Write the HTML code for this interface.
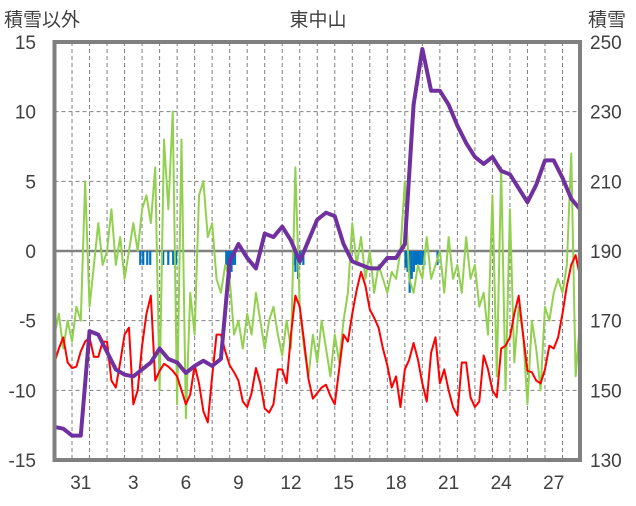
<!DOCTYPE html>
<html><head><meta charset="utf-8"><style>
body{margin:0;background:#fff}
svg text{font-family:"Liberation Sans","Noto Sans CJK JP",sans-serif;fill:#404040}
</style></head><body>
<svg id="chart" width="636" height="501" viewBox="0 0 636 501" xmlns="http://www.w3.org/2000/svg">
<rect width="636" height="501" fill="#fff"/>
<text x="318" y="26" font-size="19" text-anchor="middle">東中山</text>
<text x="4" y="26" font-size="19">積雪以外</text>
<text x="588" y="26" font-size="19">積雪</text>
<g id="grid"></g><g id="marks"></g><g id="labels"></g>
<rect x="54.5" y="42" width="525.5" height="418" fill="none" stroke="#808080" stroke-width="4"/>
</svg>
<script>
const leftTicks=[15,10,5,0,-5,-10,-15];
const rightTicks=[250,230,210,190,170,150,130];
const dayLabels=["31","3","6","9","12","15","18","21","24","27"];
const dayLabelPos=[1,4,7,10,13,16,19,22,25,28];
const snowDepth=[139.5,139,137,137,167,166,161,156,154.5,154,156,158,162,159,158,155,157,158.5,157,159,187,192,188,185,195,194,197,193,187,193,199,201,200,192,187,186,185,185,188,188,192,232,248,236,236,232,226,221,217,215,217,213,212,208,204,209,216,216,211,205,202];
const temperature=[-8,-7,-6.2,-8,-8.4,-8.3,-7.2,-6.5,-6.2,-7.6,-7.6,-6.5,-6.5,-9.3,-9.8,-8,-6,-5.5,-11,-10,-6.8,-4.5,-3.2,-9.3,-8.6,-8.1,-8.3,-8.6,-9,-10,-11,-10.3,-8.2,-9.5,-11.5,-12.3,-9,-6,-6,-7.2,-8.2,-8.7,-9.3,-10.8,-11.2,-10.2,-8.4,-9.5,-11.3,-11.6,-11,-8.5,-8.5,-9.5,-6,-3.2,-4,-6.5,-9.2,-10.6,-10.2,-9.8,-9.6,-10.4,-11,-8.5,-6,-6.5,-4.5,-2.8,-1.5,-2.5,-4.2,-4.8,-5.5,-7,-8.2,-9.8,-9,-11.2,-8.5,-7.8,-6.6,-7.8,-9.5,-10.8,-7.3,-6.2,-9.5,-8.5,-10,-11.2,-11.8,-8,-8,-10.5,-11.2,-10.8,-7.5,-8.5,-10,-10.5,-7,-6.8,-6.2,-4.5,-3.2,-6,-8.6,-8.7,-9.3,-9.5,-8.5,-6.8,-7,-6.2,-4.5,-2.5,-1,-0.3,-1.8];
const wind=[-6,-4.5,-7,-5,-6.5,-4,-5,5,-4,-1,2,-1,0,3,-1,1,-2,0,2,0,3,4,2,6,-10,8,3,10,-11,8,-12,-3,-6,4,5,1,2,-2,-3,-1,-2,-6,-5,-7,-4.5,-6,-3,-5,-7,-5,-4,-6,-7.5,-5,-7,6,-4,-7,-9,-6,-8,-5,-7,-9,-6,-8,-5,-3,2,-1,1,-2,0,-3,-1,-2,-3,-1.5,-2,0,5,-2,-3,-1,-2,1,-2,-1,0,-3,1,-2,-1,-3,1,-2,-1,-4,-3,-6,4,-9,6,-10,3,-8,-4,-6,-11,-5,-7,-10,-4,-5,-3,-2,-3,-1,7,-9,-5];
const precipDay=[4.89,5.06,5.29,5.46,6.2,6.49,6.77,6.94,9.8,9.9,10.0,10.1,10.2,10.3,13.63,13.75,13.9,14.0,14.2,20.03,20.15,20.27,20.39,20.51,20.63,20.75,20.87,20.99,21.11,21.86];
const precipVal=[-1,-1,-1,-1,-1,-1,-1,-1,-1,-1.5,-2,-1.5,-1,-1,-1,-1.5,-2,-1,-1,-1.2,-1.5,-3,-2,-1.5,-1,-1,-1,-1,-1,-1];

const X0=54.5,X1=580,Y0=42,Y1=460,DAYS=30;
const xDay=d=>X0+(X1-X0)*d/DAYS;
const yL=v=>Y1-(v+15)/30*(Y1-Y0);
const yR=v=>Y1-(v-130)/120*(Y1-Y0);
const NS="http://www.w3.org/2000/svg";
const mk=(t,a,p)=>{const e=document.createElementNS(NS,t);for(const k in a)e.setAttribute(k,a[k]);p.appendChild(e);return e;};
const grid=document.getElementById('grid'),marks=document.getElementById('marks'),labels=document.getElementById('labels');
for(let d=1;d<DAYS;d++){
  const l=mk('line',{x1:xDay(d),x2:xDay(d),y1:Y0,y2:Y1,stroke:'#808080','stroke-width':1,'stroke-dasharray':'4 3'},grid);
  
  
}
leftTicks.forEach((v,i)=>{
  const y=yL(v);
  if(v!==15&&v!==-15&&v!==0){
    const g=mk('line',{x1:X0,x2:X1,y1:y,y2:y,stroke:'#808080','stroke-width':1,'stroke-dasharray':'4 3'},grid);
    
    
  }
  const t=mk('text',{x:36,y:y+7,'font-size':19,'text-anchor':'end'},labels);t.textContent=v;
  
  
  const r=mk('text',{x:590,y:y+7,'font-size':19},labels);r.textContent=rightTicks[i];
  
  
});
const zl=mk('line',{x1:X0,x2:X1,y1:yL(0),y2:yL(0),stroke:'#808080','stroke-width':2.5},grid);


dayLabels.forEach((s,i)=>{
  const t=mk('text',{x:xDay(dayLabelPos[i]+0.5),y:489,'font-size':19,'text-anchor':'middle'},labels);t.textContent=s;
  
  
});
precipDay.forEach((d,i)=>{
  const y0=yL(0),y=yL(precipVal[i]);
  const b=mk('rect',{x:xDay(d)-1,y:y0,width:2.2,height:y-y0,fill:'#0070C0'},marks);
  
  
});
function line(arr,step,yf,color,w,name){
  const pts=arr.map((v,i)=>xDay(i*step).toFixed(2)+','+yf(v).toFixed(2)).join(' ');
  const p=mk('polyline',{points:pts,fill:'none',stroke:color,'stroke-width':w,'stroke-linejoin':'round'},marks);
  
  
}
line(wind,0.25,yL,'#92D050',2,'wind-line');
line(temperature,0.25,yL,'#FF0000',2,'temperature-line');
line(snowDepth,0.5,yR,'#7030A0',4,'snow-depth-line');
</script>
</body></html>
